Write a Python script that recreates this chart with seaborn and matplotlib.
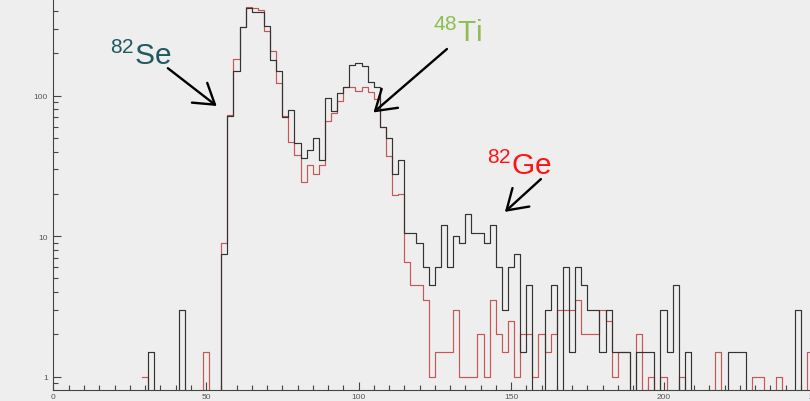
import matplotlib
matplotlib.use("Agg")
import matplotlib.pyplot as plt
import numpy as np
import pandas as pd
import seaborn as sns
from matplotlib.ticker import FixedLocator, FuncFormatter, MultipleLocator

# histogram contents, bins 2 wide, first bin starts at 29
bin_start = 29
bin_width = 2

black_counts = [
    0, 1.5, 0, 0, 0, 0, 3, 0, 0, 0,
    0, 0, 0, 7.5, 72, 150, 310, 420, 392, 392,
    315, 180, 151, 71, 79, 46, 36, 41, 50, 35,
    96, 78, 104, 115, 165, 171, 162, 125, 115, 60,
    50, 27.5, 35, 10.5, 10.5, 9, 6, 4.5, 6, 12,
    6, 10, 9, 14.5, 10.5, 10.5, 9, 12, 6, 3,
    6, 7.5, 1.5, 4.5, 0, 0, 3, 4.5, 0, 6,
    1.5, 6, 4.5, 3, 3, 1.5, 3, 1.5, 1.5, 1.5,
    0, 1.5, 1.5, 1.5, 0, 3, 1.5, 4.5, 0, 1.5,
    0, 0, 0, 0, 0, 0, 1.5, 1.5, 1.5, 0,
    0, 0, 0, 0, 0, 0, 0, 3, 0, 0,
]

red_counts = [
    1, 0, 0, 0, 0, 0, 0, 0, 0, 0,
    1.5, 0, 0, 9, 73, 182, 310, 426, 421, 406,
    287, 209, 123, 72, 47, 38, 24.5, 32, 27.5, 32,
    66, 75, 92, 115, 115, 108, 115, 106, 95, 60,
    37, 19.5, 20, 6.5, 4.5, 4.5, 3.5, 1, 1.5, 1.5,
    1.5, 3, 1, 1, 1, 2, 1, 3.5, 2, 1.5,
    2.5, 1, 2, 2, 1, 2, 1.5, 2, 3, 3,
    3, 3.5, 2, 2, 2, 3, 2.5, 1, 1.5, 1.5,
    0, 2, 0, 1, 0, 1, 0, 0, 1, 0,
    0, 0, 0, 0, 1.5, 0, 0, 0, 0, 0,
    1, 1, 0, 0, 1, 0, 0, 0, 0, 1.5,
]

x_ticks = [0, 50, 100, 150, 200, 250]
y_ticks = [1, 10, 100]

edges = bin_start + bin_width * np.arange(len(black_counts) + 1)
centers = edges[:-1] + bin_width / 2

df = pd.concat([
    pd.DataFrame({"x": centers, "n": black_counts, "series": "black"}),
    pd.DataFrame({"x": centers, "n": red_counts, "series": "red"}),
])

bg = "#eeeeee"
plt.rcParams["font.family"] = ["Liberation Sans", "DejaVu Sans"]
plt.rcParams["mathtext.default"] = "regular"

fig = plt.figure(figsize=(8.1, 4.02), dpi=100, facecolor=bg)
ax = fig.add_axes([53.5 / 810, 11 / 402, 762.5 / 810, 391 / 402])
ax.set_facecolor(bg)

sns.histplot(data=df, x="x", weights="n", hue="series", hue_order=["black", "red"],
             palette={"black": "#333333", "red": "#c95656"},
             bins=edges.tolist(), element="step", fill=False, linewidth=0.85,
             legend=False, ax=ax)

ax.set_yscale("log")
ax.set_xlim(0, 250)
ax.set_ylim(0.804, 488)
ax.set_xlabel("")
ax.set_ylabel("")

ax.xaxis.set_major_locator(FixedLocator(x_ticks))
ax.xaxis.set_minor_locator(MultipleLocator(5))
ax.yaxis.set_major_locator(FixedLocator(y_ticks))
ax.yaxis.set_major_formatter(FuncFormatter(lambda v, p: f"{v:g}"))
ax.yaxis.set_minor_formatter(FuncFormatter(lambda v, p: ""))

ax.tick_params(which="both", direction="in", color="#444444", width=0.8,
               labelsize=6, labelcolor="#555555")
ax.tick_params(which="major", length=5.8)
ax.tick_params(which="minor", length=3.4)
ax.tick_params(axis="x", pad=2)
ax.tick_params(axis="y", pad=4)

for side in ["top", "right"]:
    ax.spines[side].set_visible(False)
for side in ["left", "bottom"]:
    ax.spines[side].set_color("#444444")
    ax.spines[side].set_linewidth(0.8)

# isotope labels with arrows
arrow = dict(arrowstyle="->,head_length=0.7,head_width=0.45", color="black",
             lw=1.7, shrinkA=0, shrinkB=0, mutation_scale=20)

ax.text(18.5, 168, r"$^{82}$Se", fontsize=21.5, color="#1e5a60",
        ha="left", va="baseline")
ax.annotate("", xy=(53.5, 84.5), xytext=(37.5, 157), arrowprops=arrow)

ax.text(124.5, 245, r"$^{48}$Ti", fontsize=21.5, color="#8cbf4e",
        ha="left", va="baseline")
ax.annotate("", xy=(104.9, 76), xytext=(129, 215), arrowprops=arrow)

ax.text(142, 27.7, r"$^{82}$Ge", fontsize=21.5, color="#ff1414",
        ha="left", va="baseline")
ax.annotate("", xy=(148, 14.9), xytext=(159.8, 25.5), arrowprops=arrow)

fig.savefig("out.png", dpi=100, facecolor=bg)
